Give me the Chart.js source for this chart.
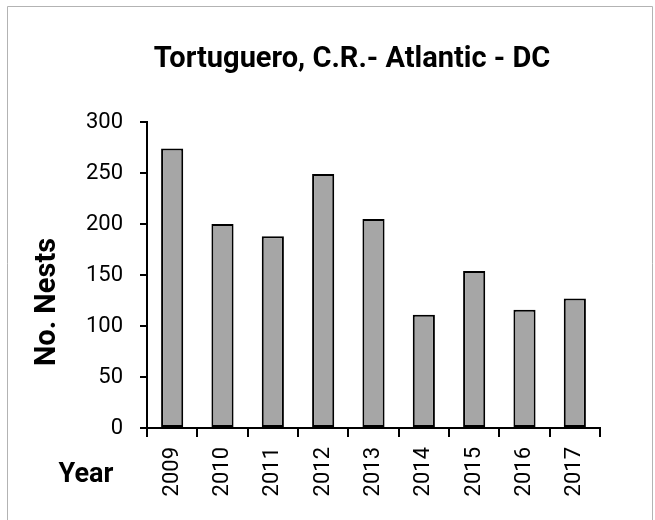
<!DOCTYPE html>
<html>
<head>
<meta charset="utf-8">
<script src="https://cdn.jsdelivr.net/npm/chart.js@4/dist/chart.umd.min.js"></script>
<style>
  html, body { margin: 0; padding: 0; background: #ffffff; }
  #wrap { width: 655px; height: 520px; position: relative; }
</style>
</head>
<body>
<div id="wrap"><canvas id="c" width="655" height="520"></canvas></div>
<script>
const chartTitle = "Tortuguero, C.R.- Atlantic - DC";
const yAxisTitle = "No. Nests";
const xAxisTitle = "Year";
const years = ["2009", "2010", "2011", "2012", "2013", "2014", "2015", "2016", "2017"];
const nests = [274, 200, 188, 249, 205, 111, 154, 116, 127];
const yTicks = [0, 50, 100, 150, 200, 250, 300];

const FONT = "Roboto, 'Open Sans', 'DejaVu Sans', sans-serif";

const decor = {
  id: 'decor',
  afterDraw(chart) {
    const ctx = chart.ctx;
    ctx.save();
    // outer frame
    ctx.strokeStyle = '#b3b3b3';
    ctx.lineWidth = 1;
    ctx.beginPath();
    ctx.moveTo(7.5, 525);
    ctx.lineTo(7.5, 6.5);
    ctx.lineTo(652.5, 6.5);
    ctx.lineTo(652.5, 525);
    ctx.stroke();
    ctx.fillStyle = '#000';
    // title
    ctx.font = "bold 29px " + FONT;
    ctx.textAlign = 'center';
    ctx.textBaseline = 'alphabetic';
    ctx.fillText(chartTitle, 352, 67);
    // y title
    ctx.save();
    ctx.translate(55, 302);
    ctx.rotate(-Math.PI / 2);
    ctx.font = "bold 29px " + FONT;
    ctx.textAlign = 'center';
    ctx.fillText(yAxisTitle, 0, 0);
    ctx.restore();
    // x title
    ctx.font = "bold 27px " + FONT;
    ctx.textAlign = 'center';
    ctx.fillText(xAxisTitle, 86, 482);
    ctx.restore();
  }
};

new Chart(document.getElementById('c'), {
  type: 'bar',
  data: {
    labels: years,
    datasets: [{
      data: nests,
      backgroundColor: '#a6a6a6',
      borderColor: '#000000',
      borderWidth: 2,
      borderSkipped: false,
      barPercentage: 0.44,
      categoryPercentage: 1.0
    }]
  },
  options: {
    responsive: false,
    animation: false,
    devicePixelRatio: 1,
    layout: { padding: { left: 0, right: 55, top: 122, bottom: 0 } },
    plugins: {
      legend: { display: false },
      title: { display: false },
      tooltip: { enabled: false }
    },
    scales: {
      x: {
        grid: {
          offset: true,
          drawOnChartArea: false,
          drawTicks: true,
          tickLength: 9,
          color: '#000000',
          lineWidth: 2
        },
        border: { display: true, color: '#000000', width: 2 },
        ticks: {
          color: '#000000',
          font: { family: FONT, size: 22 },
          maxRotation: 90,
          minRotation: 90,
          padding: 10,
          autoSkip: false
        },
        afterFit(scale) { scale.height = 92; }
      },
      y: {
        min: 0,
        max: 300,
        afterBuildTicks(scale) { scale.ticks = yTicks.map(v => ({ value: v })); },
        grid: {
          drawOnChartArea: false,
          drawTicks: true,
          tickLength: 7,
          color: '#000000',
          lineWidth: 2
        },
        border: { display: true, color: '#000000', width: 2 },
        ticks: {
          color: '#000000',
          font: { family: FONT, size: 22 },
          padding: 17
        },
        afterFit(scale) { scale.width = 147; }
      }
    }
  },
  plugins: [decor]
});
</script>
</body>
</html>
